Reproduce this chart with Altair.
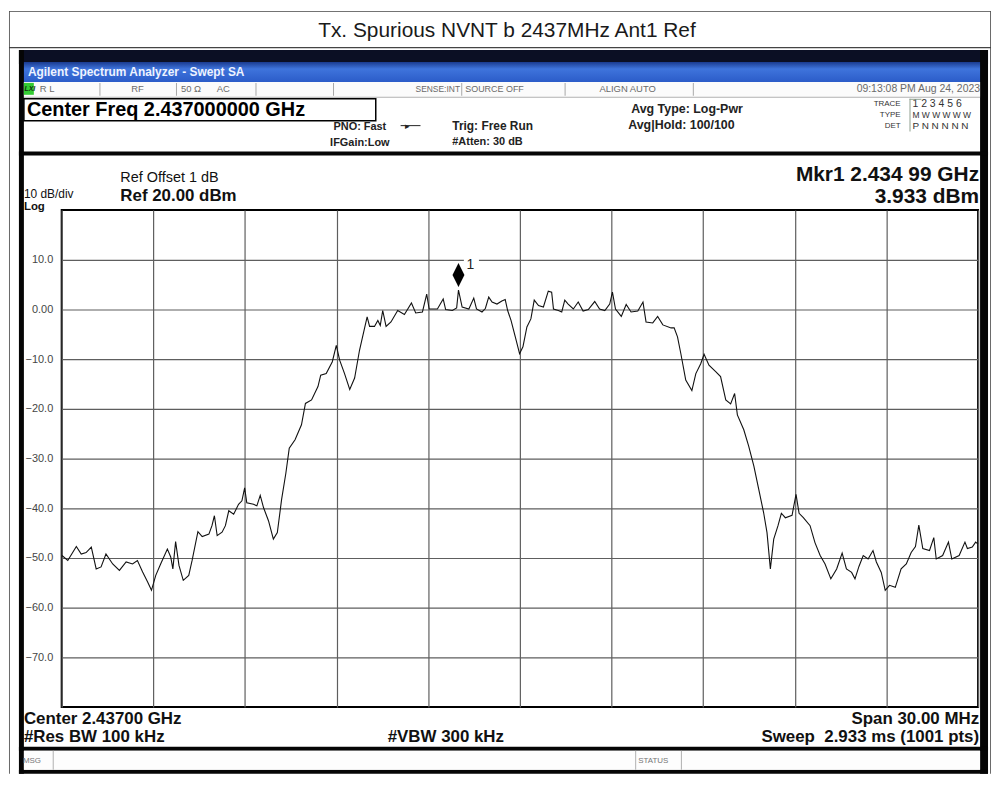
import altair as alt
import pandas as pd

# ---------------- data ----------------
freq_mhz = [
    2422.01, 2422.20, 2422.48, 2422.64, 2422.80, 2422.97, 2423.13, 2423.29, 2423.45, 2423.67,
    2423.89, 2424.11, 2424.32, 2424.48, 2424.65, 2424.81, 2424.94, 2425.08, 2425.24, 2425.46,
    2425.57, 2425.64, 2425.73, 2425.84, 2425.98, 2426.16, 2426.27, 2426.46, 2426.60, 2426.82,
    2426.92, 2427.00, 2427.09, 2427.25, 2427.36, 2427.47, 2427.63, 2427.79, 2427.90, 2427.99,
    2428.06, 2428.28, 2428.39, 2428.50, 2428.61, 2428.77, 2428.93, 2429.06, 2429.20, 2429.34,
    2429.45, 2429.64, 2429.85, 2429.98, 2430.18, 2430.39, 2430.48, 2430.66, 2430.86, 2430.99,
    2431.10, 2431.26, 2431.43, 2431.59, 2431.75, 2431.91, 2432.00, 2432.08, 2432.24, 2432.35,
    2432.43, 2432.51, 2432.62, 2432.78, 2433.00, 2433.22, 2433.45, 2433.59, 2433.81, 2433.95,
    2434.03, 2434.30, 2434.49, 2434.57, 2434.79, 2434.93, 2434.99, 2435.11, 2435.33, 2435.49,
    2435.58, 2435.76, 2435.87, 2435.98, 2436.09, 2436.25, 2436.41, 2436.52, 2436.60, 2436.71,
    2436.85, 2436.99, 2437.10, 2437.23, 2437.36, 2437.47, 2437.61, 2437.77, 2437.93, 2438.04,
    2438.10, 2438.26, 2438.37, 2438.47, 2438.58, 2438.75, 2438.91, 2439.07, 2439.24, 2439.45,
    2439.61, 2439.78, 2439.94, 2440.03, 2440.13, 2440.32, 2440.48, 2440.64, 2440.86, 2441.03,
    2441.13, 2441.35, 2441.51, 2441.68, 2441.95, 2442.05, 2442.16, 2442.27, 2442.43, 2442.63,
    2442.76, 2442.92, 2443.03, 2443.19, 2443.41, 2443.57, 2443.74, 2443.90, 2444.03, 2444.12,
    2444.33, 2444.49, 2444.66, 2444.82, 2444.98, 2445.09, 2445.20, 2445.31, 2445.45, 2445.56,
    2445.69, 2445.91, 2446.04, 2446.14, 2446.28, 2446.50, 2446.66, 2446.83, 2446.99, 2447.18,
    2447.37, 2447.55, 2447.69, 2447.86, 2447.97, 2448.10, 2448.24, 2448.40, 2448.56, 2448.67,
    2448.83, 2448.96, 2449.10, 2449.29, 2449.48, 2449.65, 2449.81, 2449.95, 2450.06, 2450.19,
    2450.41, 2450.55, 2450.63, 2450.84, 2451.03, 2451.14, 2451.38, 2451.57, 2451.65, 2451.81,
    2451.92, 2452.00,
]
level_dbm = [
    -49.5, -50.5, -47.7, -49.2, -48.9, -47.8, -52.2, -51.8, -49.2, -51.2,
    -52.5, -50.8, -51.2, -50.5, -52.8, -54.8, -56.5, -53.5, -51.2, -48.2,
    -49.8, -52.2, -46.7, -51.5, -54.5, -53.5, -50.5, -44.7, -45.7, -45.2,
    -43.5, -41.5, -45.5, -44.8, -43.5, -40.5, -41.2, -39.2, -38.5, -35.9,
    -38.9, -39.2, -39.5, -37.4, -39.9, -42.5, -46.2, -44.9, -38.2, -32.9,
    -27.9, -26.2, -23.2, -18.9, -18.2, -15.5, -13.2, -12.9, -10.5, -7.2,
    -10.2, -12.9, -16.1, -13.8, -8.2, -3.9, -1.5, -3.4, -3.4, -2.2,
    -3.2, -0.2, -3.4, -2.5, -0.2, -1.0, 1.3, -0.7, -0.5, 3.1,
    0.1, 0.1, 2.1, 0.0, -0.2, 0.3, 3.9, 0.5, 0.1, 2.3,
    0.1, -0.5, 0.2, 2.5, 1.5, 1.1, 1.7, 2.0, -0.2, -2.2,
    -5.5, -8.9, -7.5, -3.5, -1.9, 1.9, 0.8, 0.5, 3.7, 3.5,
    0.1, -0.2, -0.5, 1.9, 1.1, 0.1, 1.5, -0.3, 0.0, 1.6,
    0.1, -0.2, 1.1, 3.5, 0.1, -1.4, 1.0, -0.5, -0.3, 1.5,
    -2.5, -2.7, -1.4, -3.1, -3.7, -3.7, -5.5, -8.9, -14.2, -16.3,
    -12.9, -10.9, -9.0, -11.2, -12.5, -13.5, -18.2, -19.0, -16.9, -21.2,
    -24.2, -27.5, -31.5, -36.2, -40.9, -44.9, -52.2, -46.2, -43.5, -41.0,
    -41.9, -41.4, -37.2, -41.0, -41.9, -43.5, -46.9, -49.5, -51.2, -54.2,
    -52.2, -49.0, -52.2, -52.9, -54.2, -51.7, -49.5, -50.2, -48.5, -50.8,
    -52.9, -56.5, -55.5, -55.9, -52.2, -51.2, -48.9, -47.7, -43.4, -48.1,
    -48.5, -45.9, -50.2, -49.5, -46.8, -50.2, -49.5, -46.8, -48.1, -47.8,
    -46.8, -47.2,
]
mkr_freq = [2434.99]
mkr_level = [3.933]
x_grid = [2422, 2425, 2428, 2431, 2434, 2437, 2440, 2443, 2446, 2449, 2452]
y_grid = [10, 0, -10, -20, -30, -40, -50, -60, -70]
x_domain = [2422, 2452]
y_domain = [-80, 20]

trace = pd.DataFrame({"freq": freq_mhz, "level": level_dbm})
marker = pd.DataFrame({"freq": mkr_freq, "level": mkr_level})
ONE = pd.DataFrame({"k": [0]})

SANS = "Liberation Sans"
OX, OY = 62, 209          # page position of the plot area's top-left corner
PW, PH = 922, 500         # plot area size


def txt(s, x, y, size, bold=False, align="left", color="#000000", italic=False):
    return alt.Chart(ONE).mark_text(
        text=s, align=align, baseline="middle", fontSize=size,
        fontWeight="bold" if bold else "normal",
        fontStyle="italic" if italic else "normal",
        font=SANS, color=color,
    ).encode(x=alt.value(x - OX), y=alt.value(y - OY))


def box(x1, y1, x2, y2, fill="none", stroke=None, sw=1.0, grad=None):
    kw = {}
    if grad is not None:
        kw["color"] = grad
    elif fill != "none":
        kw["fill"] = fill
        kw["fillOpacity"] = 1
    else:
        kw["fillOpacity"] = 0
    if stroke is not None:
        kw["stroke"] = stroke
        kw["strokeWidth"] = sw
    else:
        kw["strokeWidth"] = 0
    return alt.Chart(ONE).mark_rect(**kw).encode(
        x=alt.value(x1 - OX), x2=alt.value(x2 - OX),
        y=alt.value(y1 - OY), y2=alt.value(y2 - OY),
    )


layers = []

# ---- outer report frame + title ----
layers += [
    box(9, 9, 997, 9.8, fill="#444444"),
    box(9, 9, 9.8, 776, fill="#444444"),
    box(996.2, 9, 997, 776, fill="#444444"),
    box(9, 45, 997, 46.2, fill="#444444"),
    txt("Tx. Spurious NVNT b 2437MHz Ant1 Ref", 510, 29, 21, align="center", color="#1a1a1a"),
]

# ---- analyzer window frame ----
blue = alt.Gradient(
    gradient="linear", x1=0, x2=0, y1=0, y2=1,
    stops=[alt.GradientStop(color="#1a3b8f", offset=0),
           alt.GradientStop(color="#3f74dc", offset=0.35),
           alt.GradientStop(color="#2b5cc8", offset=1)],
)
layers += [
    box(19, 48, 994, 62, fill="#0b0f24"),
    box(22, 60, 991, 80, grad=blue),
    box(19, 48, 24, 776, fill="#050505"),
    box(986, 48, 994, 776, fill="#050505"),
    box(19, 150, 994, 154, fill="#050505"),
    box(19, 749, 994, 753, fill="#050505"),
    box(19, 772, 994, 776, fill="#050505"),
    txt("Agilent Spectrum Analyzer - Swept SA", 28, 70, 12, bold=True, color="#eef3ff"),
]

# ---- status row ----
grey = "#6a6a6a"
layers += [
    box(24, 80, 986, 95, fill="#fbfbfb"),
    box(24, 95, 986, 96, fill="#b0b0b0"),
    box(24, 81, 34, 93, fill="#33cc33"),
    txt("LXI", 24.5, 87, 7, bold=True, italic=True, color="#103010"),
    txt("R L", 40, 87, 9.5, color=grey),
    txt("RF", 132, 87, 9.5, color=grey),
    txt("50 \u03a9", 182, 87, 9.5, color=grey),
    txt("AC", 218, 87, 9.5, color=grey),
    txt("SENSE:INT", 418, 87, 8.5, color=grey),
    txt("SOURCE OFF", 468, 87, 9, color=grey),
    txt("ALIGN AUTO", 603, 87, 9.5, color=grey),
    txt("09:13:08 PM Aug 24, 2023", 986, 87, 10.5, align="right", color=grey),
]
for sx in [100, 177, 257, 335, 464, 568, 697]:
    layers.append(box(sx, 81, sx + 1, 94, fill="#a8a8a8"))

# ---- settings block ----
layers += [
    box(24, 97, 378, 119, fill="#ffffff", stroke="#000000", sw=1.5),
    txt("Center Freq 2.437000000 GHz", 27, 108.5, 20, bold=True),
    txt("PNO: Fast", 362, 125, 11, bold=True, align="center", color="#222222"),
    txt("IFGain:Low", 362, 141, 11, bold=True, align="center", color="#222222"),
    box(403, 123.5, 423, 124.5, fill="#222222"),
    txt("\u25b8", 410, 124, 9, align="center", color="#222222"),
    txt("Trig: Free Run", 455, 124, 12, bold=True, color="#222222"),
    txt("#Atten: 30 dB", 455, 140, 11, bold=True, color="#222222"),
    txt("Avg Type: Log-Pwr", 635, 107, 12.5, bold=True, color="#222222"),
    txt("Avg|Hold: 100/100", 632, 123, 12.5, bold=True, color="#222222"),
    txt("TRACE", 906, 102, 8, align="right", color="#333333"),
    txt("TYPE", 906, 113, 8, align="right", color="#333333"),
    txt("DET", 906, 124, 8, align="right", color="#333333"),
    txt("1 2 3 4 5 6", 918, 102, 10.5, color="#333333"),
    txt("M W W W W W", 918, 113, 8.5, color="#333333"),
    txt("P N N N N N", 918, 124, 10, color="#333333"),
    box(915, 97, 916, 130, fill="#8fa08f"),
    box(915, 97, 927, 98, fill="#8fa08f"),
]

# ---- graph annotations ----
layers += [
    txt("Ref Offset 1 dB", 121, 177, 14.5, color="#111111"),
    txt("10 dB/div", 24, 192.5, 12, color="#111111"),
    txt("Log", 24, 205.5, 11.5, bold=True, color="#111111"),
    txt("Ref 20.00 dBm", 121, 195, 17, bold=True, color="#111111"),
    txt("Mkr1 2.434 99 GHz", 985, 174, 21, bold=True, align="right", color="#111111"),
    txt("3.933 dBm", 985, 196, 21, bold=True, align="right", color="#111111"),
    txt("Center 2.43700 GHz", 24, 721, 17, bold=True, color="#111111"),
    txt("#Res BW 100 kHz", 24, 739, 17, bold=True, color="#111111"),
    txt("#VBW 300 kHz", 390, 739, 17, bold=True, color="#111111"),
    txt("Span 30.00 MHz", 985, 721, 17, bold=True, align="right", color="#111111"),
    txt("Sweep\u00a0\u00a02.933 ms (1001 pts)", 985, 739, 17, bold=True, align="right", color="#111111"),
]

# ---- message bar ----
layers += [
    box(24, 753, 986, 772, fill="#fdfdfd"),
    txt("MSG", 23, 763, 8, color="#777777"),
    txt("STATUS", 642, 763, 8, color="#777777"),
    box(53, 753, 54, 772, fill="#b0b0b0"),
    box(639, 753, 640, 772, fill="#b0b0b0"),
    box(685, 753, 686, 772, fill="#b0b0b0"),
]

# ---- the measured trace ----
xs = alt.Scale(domain=x_domain, nice=False, zero=False)
ys = alt.Scale(domain=y_domain, nice=False, zero=False)
x_axis = alt.Axis(values=x_grid, labels=False, ticks=False, domain=False, title=None,
                  grid=True, gridColor="#5e5e5e", gridWidth=1.2)
y_axis = alt.Axis(values=y_grid, ticks=False, domain=False, title=None, grid=True,
                  gridColor="#5e5e5e", gridWidth=1.2, labelFont=SANS, labelFontSize=11,
                  labelColor="#454545", labelPadding=9,
                  labelExpr="datum.value == 0 ? '0.00' : format(datum.value, '.1f')")

line = alt.Chart(trace).mark_line(color="#111111", strokeWidth=1.1).encode(
    x=alt.X("freq:Q", scale=xs, axis=x_axis),
    y=alt.Y("level:Q", scale=ys, axis=y_axis),
)
mk_enc = dict(x=alt.X("freq:Q", scale=xs), y=alt.Y("level:Q", scale=ys))
label_bg = alt.Chart(marker).mark_square(size=230, filled=True, color="#ffffff",
                                         xOffset=13, yOffset=-25, opacity=1).encode(**mk_enc)
diamond = alt.Chart(marker).mark_point(shape="M0,-1L0.5,0L0,1L-0.5,0Z", filled=True,
                                       color="#000000", size=576, opacity=1,
                                       yOffset=-15).encode(**mk_enc)
mk_text = alt.Chart(marker).mark_text(text="1", align="left", baseline="middle", fontSize=14,
                                      font=SANS, color="#222222", dx=8, dy=-25).encode(**mk_enc)

layers += [line, label_bg, diamond, mk_text]

chart = alt.layer(*layers).properties(
    width=PW, height=PH,
    autosize=alt.AutoSizeParams(type="none"),
    padding={"left": 54, "top": 201, "right": 14, "bottom": 67},
    background="#ffffff",
).configure_view(stroke="#000000", strokeWidth=2, fill=None)

chart.save("out.html", embed_options={"renderer": "svg", "actions": False})
